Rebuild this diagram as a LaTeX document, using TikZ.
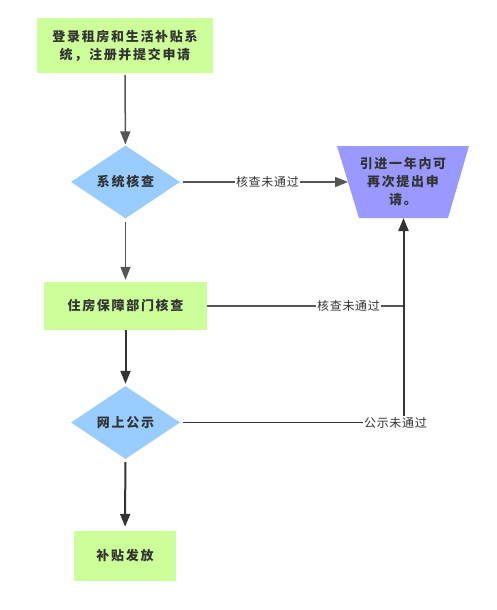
\documentclass[tikz,border=0pt]{standalone}
\usepackage{fontspec}
\newfontfamily\cjk[LetterSpace=13]{Noto Sans CJK SC}
\newfontfamily\cjklab[LetterSpace=6]{Noto Sans CJK SC}
\usetikzlibrary{shapes.geometric,arrows.meta}
\definecolor{boxgreen}{HTML}{CCFF99}
\definecolor{checkblue}{HTML}{99CCFF}
\definecolor{retryviolet}{HTML}{9999FF}
\definecolor{linegray}{HTML}{555555}
\definecolor{linedark}{HTML}{333333}
\tikzset{
  stepbox/.style={fill=boxgreen, inner sep=0pt, align=center, text=linedark,
    font=\cjk\bfseries\fontsize{13}{18}\selectfont},
  checkbox/.style={diamond, fill=checkblue, inner sep=0pt, aspect=1.5,
    minimum width=109pt, minimum height=73pt, text=linedark,
    font=\cjk\bfseries\fontsize{13}{18}\selectfont},
  flow/.style={draw=linegray, line width=1.5pt, -{Triangle[length=13pt,width=10pt]}},
  flowdark/.style={draw=linedark, line width=2pt, -{Triangle[length=13pt,width=10pt]}},
  lab/.style={fill=white, inner sep=1pt, text=linedark,
    font=\cjklab\fontsize{12}{14}\selectfont},
}
\begin{document}
\begin{tikzpicture}[x=1pt, y=-1pt, line join=round]
  \useasboundingbox (0,0) rectangle (497,610);
  % retry trapezium
  \fill[retryviolet] (337,146) -- (469,146) -- (448,218) -- (359,218) -- cycle;
  \path
  (125,45.5) node[stepbox, minimum width=176pt, minimum height=55pt] (login) {登录租房和生活补贴系\\统，注册并提交申请}
  (125.5,182) node[checkbox] (syscheck) {系统核查}
  (125.5,306) node[stepbox, minimum width=163pt, minimum height=48pt] (deptcheck) {住房保障部门核查}
  (125.5,422.5) node[checkbox] (publish) {网上公示}
  (125,556) node[stepbox, minimum width=102pt, minimum height=50pt] (grant) {补贴发放}
  (403,182) node[inner sep=0pt, align=center, text=linedark,
    font=\cjk\bfseries\fontsize{13}{18}\selectfont] (retry) {引进一年内可\\再次提出申\\请。}
  (348,182) coordinate (retryin)
  (403.5,218) coordinate (retrybot)
  (403.5,422.5) coordinate (jct)
  ;
  % main flow
  \draw[flow, shorten <=2pt, shorten >=1pt] (login) -- (syscheck);
  \draw[flow, shorten <=3pt, shorten >=2pt] (syscheck) -- (deptcheck);
  \draw[flowdark, shorten >=2pt] (deptcheck) -- (publish);
  \draw[flowdark, shorten <=3pt, shorten >=4pt] (publish) -- (grant);
  % rejected
  \draw[flow, shorten <=3pt] (syscheck) -- node[lab, pos=0.52] (lab1) {核查未通过} (retryin);
  \draw[draw=linegray, line width=1.5pt] (deptcheck.east) -- node[lab, pos=0.72] (lab2) {核查未通过} (deptcheck.east -| jct);
  \draw[flowdark] (jct) -- (retrybot);
  \draw[draw=linedark, line width=1.5pt, shorten <=3pt] (publish.east) -- (jct)
    node[lab, xshift=-8pt] (lab3) {公示未通过};
\end{tikzpicture}
\end{document}
